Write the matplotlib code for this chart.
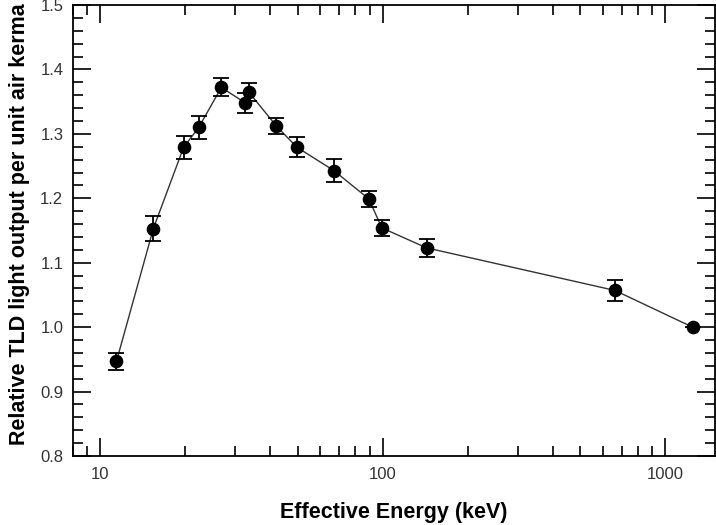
import numpy as np
import matplotlib
matplotlib.use('Agg')
import matplotlib.pyplot as plt
from matplotlib.ticker import FixedLocator, MultipleLocator, LogLocator, NullFormatter

# ---------- data ----------
energy_kev = [11.4, 15.4, 19.7, 22.3, 26.8, 32.6, 33.5, 42.0, 49.7, 67.1, 89.2, 99.2, 143, 663, 1250]
rel_output = [0.947, 1.153, 1.279, 1.310, 1.372, 1.348, 1.365, 1.312, 1.279, 1.243, 1.199, 1.154, 1.123, 1.057, 1.000]
rel_error = [0.0135, 0.019, 0.018, 0.018, 0.014, 0.015, 0.014, 0.013, 0.0155, 0.018, 0.013, 0.013, 0.0145, 0.016, 0.0]

x_ticks = [10, 100, 1000]
x_tick_labels = ['10', '100', '1000']
y_ticks = [0.8, 0.9, 1.0, 1.1, 1.2, 1.3, 1.4, 1.5]

plt.rcParams['font.family'] = ['Liberation Sans', 'DejaVu Sans']

fig = plt.figure(figsize=(7.16, 5.25), dpi=100)
ax = fig.add_axes([0.102, 0.1314, 0.8966, 0.8591])

ax.plot(energy_kev, rel_output, color='#333333', lw=1.0, zorder=2)
ax.errorbar(energy_kev, rel_output, yerr=rel_error, fmt='o', color='black',
            ms=8.8, capsize=5.5, capthick=1.3, elinewidth=1.3, zorder=3)

ax.set_xscale('log')
ax.set_xlim(8, 1500)
ax.set_ylim(0.8, 1.5)

ax.xaxis.set_major_locator(FixedLocator(x_ticks))
ax.set_xticklabels(x_tick_labels)
ax.xaxis.set_minor_locator(LogLocator(base=10, subs=np.arange(2, 10)))
ax.xaxis.set_minor_formatter(NullFormatter())
ax.yaxis.set_major_locator(FixedLocator(y_ticks))
ax.set_yticklabels([f'{v:.1f}' for v in y_ticks])
ax.yaxis.set_minor_locator(MultipleLocator(0.02))

ax.tick_params(which='both', direction='in', top=True, right=True,
               labelsize=12, labelcolor='#333333', width=1.2)
ax.tick_params(which='major', length=13)
ax.tick_params(axis='x', which='major', pad=8)
ax.tick_params(axis='y', which='major', pad=7)
ax.tick_params(which='minor', length=7)
for s in ax.spines.values():
    s.set_linewidth(1.3)

ax.set_xlabel('Effective Energy (keV)', fontsize=15.5, fontweight='bold', labelpad=14)
ax.set_ylabel('Relative TLD light output per unit air kerma', fontsize=15.5,
              fontweight='bold', labelpad=7)
ax.yaxis.label.set_y(0.514)  # label sits a little above centre in the original

fig.savefig('out.png', dpi=100)
